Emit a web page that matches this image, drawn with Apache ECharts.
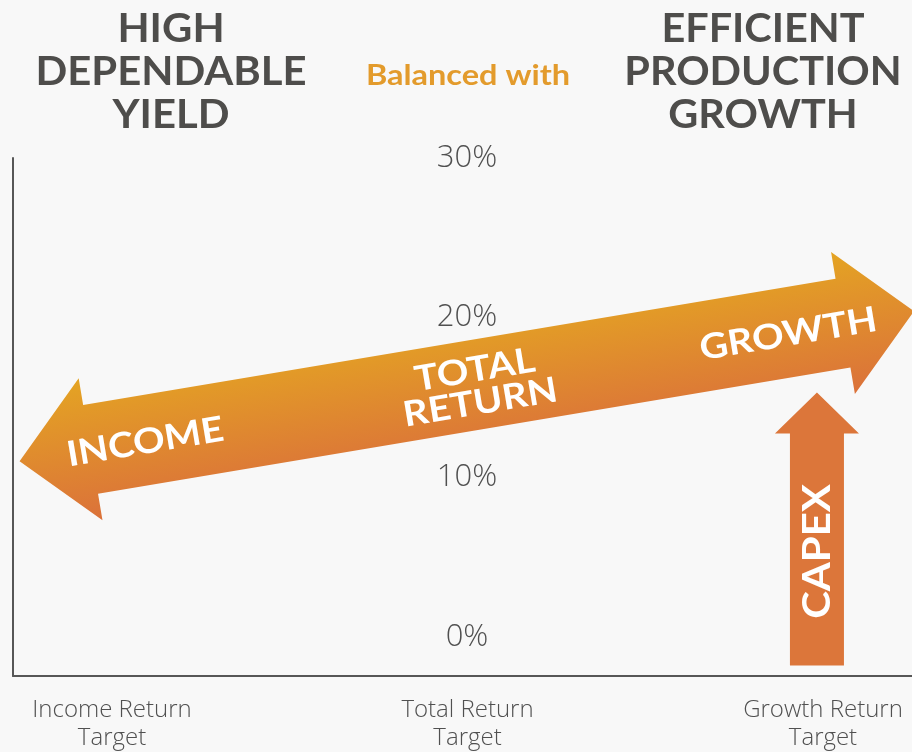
<!DOCTYPE html>
<html>
<head>
<meta charset="utf-8" />
<script src="https://cdn.jsdelivr.net/npm/echarts@6/dist/echarts.min.js"></script>
</head>
<body style="margin:0;background:#f8f8f8">
<div id="container" style="width:912px;height:752px"></div>
<script>
// x is measured in category units (0 = income, 1 = total, 2 = growth), y in %
var categories = ['Income Return\nTarget', 'Total Return\nTarget', 'Growth Return\nTarget'];
var yTicks = [0, 10, 20, 30];
var returnArrow = [[-0.26, 11.0, 2.256, 20.4]]; // left tip x,y / right tip x,y
var returnLabels = ['INCOME', 'TOTAL\nRETURN', 'GROWTH'];
var capexArrow = [[1.983, -1.8, 15.3]]; // x, bottom, tip
var capexLabel = 'CAPEX';
var leftTitle = 'HIGH\nDEPENDABLE\nYIELD';
var rightTitle = 'EFFICIENT\nPRODUCTION\nGROWTH';
var middleTitle = 'Balanced with';

var dom = document.getElementById('container');
var myChart = echarts.init(dom);

var axisColor = '#575757';
var labelFont = '"Open Sans", Lato, sans-serif';
var titleFont = 'bold 41px Lato';
var arrowFont = 'bold 35px Lato';

function renderReturnArrow(params, api) {
  var p0 = api.coord([api.value(0), api.value(1)]);
  var p1 = api.coord([api.value(2), api.value(3)]);
  var dx = p1[0] - p0[0], dy = p1[1] - p0[1];
  var L = Math.sqrt(dx * dx + dy * dy);
  var hl = 72, H = 72, h = 45;
  var along = [127, 464, 779];
  var children = [{
    type: 'polygon',
    shape: { points: [[0, 0], [hl, -H], [hl, -h], [L - hl, -h], [L - hl, -H], [L, 0],
                      [L - hl, H], [L - hl, h], [hl, h], [hl, H]] },
    style: {
      fill: new echarts.graphic.LinearGradient(0, 0, 0, 1, [
        { offset: 0, color: '#e4a423' },
        { offset: 1, color: '#db713a' }
      ])
    }
  }];
  returnLabels.forEach(function (t, i) {
    children.push({
      type: 'text',
      x: along[i], y: 2,
      scaleX: 1.12,
      style: { text: t, font: arrowFont, fill: '#fff', textAlign: 'center',
               textVerticalAlign: 'middle', lineHeight: 33 }
    });
  });
  return {
    type: 'group',
    x: p0[0], y: p0[1],
    rotation: -Math.atan2(dy, dx),
    children: children
  };
}

function renderCapex(params, api) {
  var pb = api.coord([api.value(0), api.value(1)]);
  var pt = api.coord([api.value(0), api.value(2)]);
  var x = pb[0], yb = pb[1], yt = pt[1];
  var hw = 27, HW = 42, hl = 41;
  return {
    type: 'group',
    children: [{
      type: 'polygon',
      shape: { points: [[x - hw, yb], [x - hw, yt + hl], [x - HW, yt + hl], [x, yt],
                        [x + HW, yt + hl], [x + hw, yt + hl], [x + hw, yb]] },
      style: { fill: '#dc763a' }
    }, {
      type: 'text',
      x: x + 1, y: (yb + yt + hl) / 2 + 2,
      rotation: Math.PI / 2,
      scaleX: 1.1,
      style: { text: capexLabel, font: 'bold 38px Lato', fill: '#fff', textAlign: 'center',
               textVerticalAlign: 'middle' }
    }]
  };
}

var option = {
  backgroundColor: '#f8f8f8',
  animation: false,
  grid: { left: 13, right: 0, top: 158, bottom: 76 },
  xAxis: {
    type: 'value',
    min: -0.2785,
    max: 2.2504,
    splitLine: { show: false },
    axisTick: { show: false },
    axisLine: { onZero: false, lineStyle: { color: axisColor, width: 2 } },
    axisLabel: {
      customValues: [0, 1, 2],
      formatter: function (v) { return categories[Math.round(v)]; },
      color: '#505050', fontSize: 24, lineHeight: 28, margin: 20,
      fontFamily: labelFont, fontWeight: 300
    }
  },
  yAxis: {
    type: 'value',
    min: -2.46,
    max: 30,
    splitLine: { show: false },
    axisTick: { show: false },
    axisLine: { show: true, onZero: false, lineStyle: { color: axisColor, width: 2 } },
    axisLabel: {
      customValues: yTicks,
      inside: true,
      margin: 454,
      align: 'center',
      formatter: '{value}%',
      color: '#505050', fontSize: 31, fontFamily: labelFont, fontWeight: 300
    }
  },
  graphic: [
    { type: 'text', x: 171, y: 72, scaleX: 1.02,
      style: { text: leftTitle, font: titleFont, fill: '#4e4d4b', textAlign: 'center',
               textVerticalAlign: 'middle', lineHeight: 43 } },
    { type: 'text', x: 763, y: 72, scaleX: 1.01,
      style: { text: rightTitle, font: titleFont, fill: '#4e4d4b', textAlign: 'center',
               textVerticalAlign: 'middle', lineHeight: 43 } },
    { type: 'text', x: 468, y: 76, scaleX: 1.12,
      style: { text: middleTitle, font: 'bold 29px Lato', fill: '#e39b2c', textAlign: 'center',
               textVerticalAlign: 'middle' } }
  ],
  series: [{
    type: 'custom',
    name: 'Return',
    renderItem: renderReturnArrow,
    encode: { x: [0, 2], y: [1, 3] },
    data: returnArrow,
    clip: false
  }, {
    type: 'custom',
    name: 'Capex',
    renderItem: renderCapex,
    encode: { x: 0, y: [1, 2] },
    data: capexArrow,
    clip: false
  }]
};

myChart.setOption(option);
</script>
</body>
</html>
